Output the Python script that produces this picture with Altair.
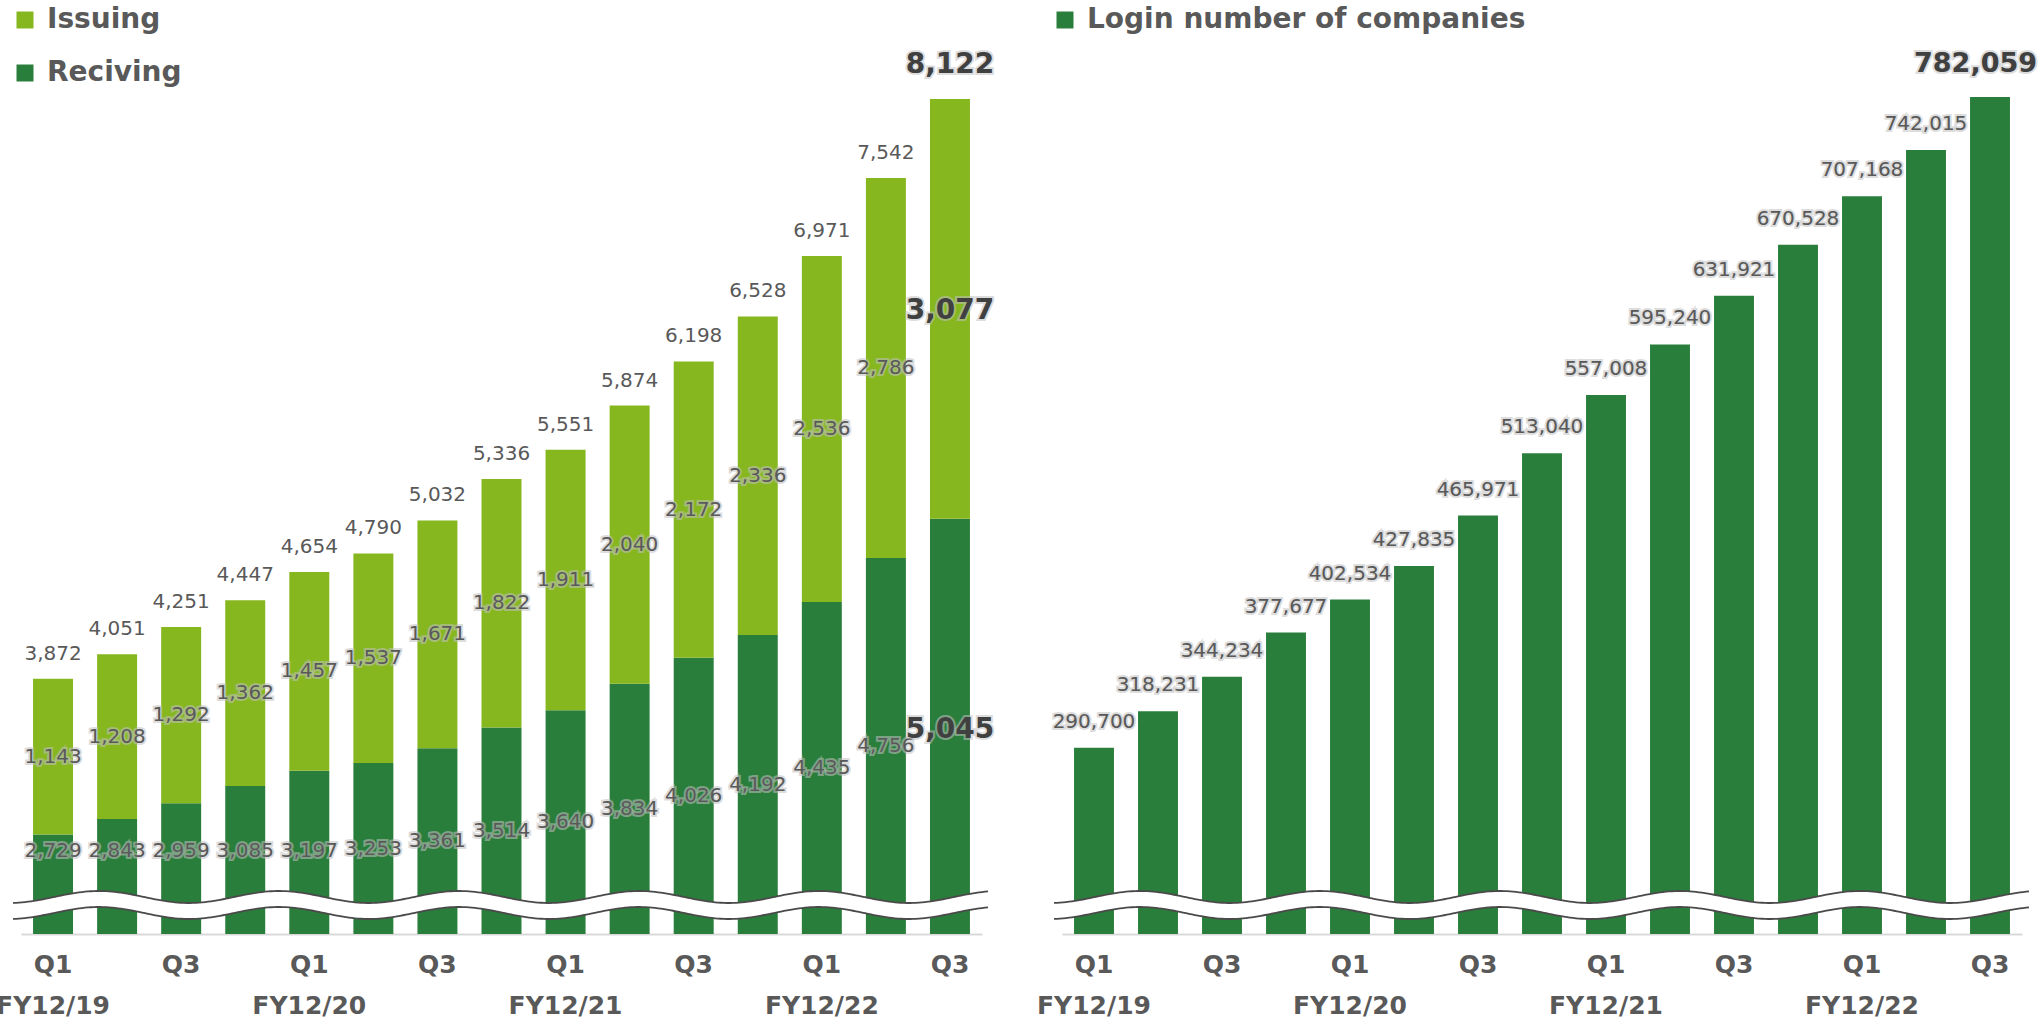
import altair as alt
import pandas as pd
import numpy as np

# ---------------- data ----------------
quarters = [
    "Q1 FY12/19", "Q2 FY12/19", "Q3 FY12/19", "Q4 FY12/19",
    "Q1 FY12/20", "Q2 FY12/20", "Q3 FY12/20", "Q4 FY12/20",
    "Q1 FY12/21", "Q2 FY12/21", "Q3 FY12/21", "Q4 FY12/21",
    "Q1 FY12/22", "Q2 FY12/22", "Q3 FY12/22",
]
receiving = [2729, 2843, 2959, 3085, 3197, 3253, 3361, 3514, 3640, 3834, 4026, 4192, 4435, 4756, 5045]
issuing = [1143, 1208, 1292, 1362, 1457, 1537, 1671, 1822, 1911, 2040, 2172, 2336, 2536, 2786, 3077]
login_companies = [290700, 318231, 344234, 377677, 402534, 427835, 465971, 513040,
                   557008, 595240, 631921, 670528, 707168, 742015, 782059]
left_series = ["Issuing", "Reciving"]
right_series = ["Login number of companies"]

# ---------------- layout / style ----------------
W, H, PAD_B = 2042, 934, 84
LEFT_X = [21, 982]
RIGHT_X = [1062, 2022]
LEFT_FLOOR = 2000        # truncated axis start (left)
RIGHT_FLOOR = 150000     # truncated axis start (right)
LABEL_MIN = 2610         # keep receiving labels above the break band
LIGHT = "#86B71E"
DARK = "#2A7E3B"
TXT = "#595959"
TXT_BOLD = "#404040"
HALO = "#c2c2c2"
FONT = "DejaVu Sans"

n = len(quarters)
left_df = pd.DataFrame({"quarter": quarters, "recv": receiving, "issu": issuing})
left_df["total"] = left_df["recv"] + left_df["issu"]
left_df["issu_mid"] = left_df["recv"] + left_df["issu"] / 2
left_df["recv_lab"] = np.maximum((LEFT_FLOOR + left_df["recv"]) / 2, LABEL_MIN)
left_df["idx"] = range(n)

right_df = pd.DataFrame({"quarter": quarters, "login": login_companies, "idx": range(n)})

label_expr = ("slice(datum.value,0,2)=='Q1' ? [slice(datum.value,0,2), slice(datum.value,3)] : "
              "(slice(datum.value,0,2)=='Q3' ? slice(datum.value,0,2) : '')")


def x_enc(rng):
    return alt.X(
        "quarter:N", sort=quarters,
        scale=alt.Scale(range=rng, paddingInner=0.376, paddingOuter=0.188),
        axis=alt.Axis(orient="bottom", title=None, labelExpr=label_expr, labelAngle=0,
                      labelFont=FONT, labelFontWeight="bold", labelFontSize=25,
                      labelColor=TXT, labelBaseline="top", labelLineHeight=41,
                      labelPadding=18, labelOverlap=False, ticks=False,
                      domainColor="#d9d9d9", domainWidth=2, grid=False),
    )


left_y = alt.Scale(domain=[LEFT_FLOOR, int(left_df["total"].max())], range=[H, 99], zero=False, nice=False)
right_y = alt.Scale(domain=[RIGHT_FLOOR, max(login_companies)], range=[H, 97], zero=False, nice=False)


def text_layers(base, xe, yfield, yscale, tfield, size, weight, color, dy, dx=0, halo=True, align="center"):
    enc = dict(x=xe, y=alt.Y(yfield, type="quantitative", scale=yscale, axis=None),
               text=alt.Text(tfield, type="quantitative", format=","))
    out = []
    if halo:
        out.append(base.mark_text(font=FONT, fontSize=size, fontWeight=weight, color=HALO,
                                  stroke=HALO, strokeWidth=4, strokeOpacity=0.6, opacity=0.9,
                                  baseline="middle", align=align, dy=dy, dx=dx).encode(**enc))
    out.append(base.mark_text(font=FONT, fontSize=size, fontWeight=weight, color=color,
                              baseline="middle", align=align, dy=dy, dx=dx).encode(**enc))
    return out


def legend_at(x, y):
    return alt.Legend(orient="none", legendX=x, legendY=y, title=None, symbolType="square",
                      symbolSize=289, symbolStrokeWidth=0, symbolOpacity=1,
                      labelFont=FONT, labelFontSize=28, labelFontWeight="bold",
                      labelColor=TXT, labelOffset=8, rowPadding=25, padding=0,
                      labelLimit=800)


# ---------------- left panel ----------------
lx = x_enc(LEFT_X)
lbase = alt.Chart(left_df)
left_color = alt.Scale(domain=left_series, range=[LIGHT, DARK])
left_legend = legend_at(11, 6)

recv_bars = lbase.transform_calculate(series="'Reciving'").mark_bar().encode(
    x=lx, y=alt.Y("recv:Q", scale=left_y, axis=None), y2=alt.datum(LEFT_FLOOR),
    color=alt.Color("series:N", scale=left_color, legend=left_legend))
issu_bars = lbase.transform_calculate(series="'Issuing'").mark_bar().encode(
    x=lx, y=alt.Y("total:Q", scale=left_y, axis=None), y2="recv:Q",
    color=alt.Color("series:N", scale=left_color, legend=left_legend))

lnorm = lbase.transform_filter(f"datum.idx < {n - 1}")
llast = lbase.transform_filter(f"datum.idx == {n - 1}")

left_layers = [recv_bars, issu_bars]
left_layers += text_layers(lnorm, lx, "issu_mid", left_y, "issu", 20, "normal", TXT, 0)
left_layers += text_layers(lnorm, lx, "recv_lab", left_y, "recv", 20, "normal", TXT, 0)
left_layers += text_layers(lnorm, lx, "total", left_y, "total", 20, "normal", TXT, -25, halo=False)
left_layers += text_layers(llast, lx, "issu_mid", left_y, "issu", 28, "bold", TXT_BOLD, 2)
left_layers += text_layers(llast, lx, "recv_lab", left_y, "recv", 28, "bold", TXT_BOLD, 4)
left_layers += text_layers(llast, lx, "total", left_y, "total", 28, "bold", TXT_BOLD, -34)
left = alt.layer(*left_layers)

# ---------------- right panel ----------------
rx = x_enc(RIGHT_X)
rbase = alt.Chart(right_df)
right_legend = legend_at(1051, 6)
login_bars = rbase.transform_calculate(series="'Login number of companies'").mark_bar().encode(
    x=rx, y=alt.Y("login:Q", scale=right_y, axis=None), y2=alt.datum(RIGHT_FLOOR),
    color=alt.Color("series:N", scale=alt.Scale(domain=right_series, range=[DARK]),
                    legend=right_legend))
rnorm = rbase.transform_filter(f"datum.idx < {n - 1}")
rlast = rbase.transform_filter(f"datum.idx == {n - 1}")
right_layers = [login_bars]
right_layers += text_layers(rnorm, rx, "login", right_y, "login", 20, "normal", TXT, -26)
right_layers += text_layers(rlast, rx, "login", right_y, "login", 27, "bold", TXT_BOLD, -33,
                            dx=47, align="right")
right = alt.layer(*right_layers)

# ---------------- axis-break decoration (pixel space) ----------------
rows = []
for name, (x0, x1) in {"L": LEFT_X, "R": RIGHT_X}.items():
    peak = x0 + 78
    for xp in np.arange(x0 - 8, x1 + 9, 3.0):
        up = 897 - 6 * np.cos(2 * np.pi * (xp - peak) / 180.0)
        rows.append({"panel": name, "px": float(xp), "up": float(up), "lo": float(up + 16)})
wave_df = pd.DataFrame(rows)
pxs = alt.Scale(domain=[0, W], range=[0, W], zero=False, nice=False)
pys = alt.Scale(domain=[0, H + PAD_B], range=[0, H + PAD_B], zero=False, nice=False)
wbase = alt.Chart(wave_df)
w_area = wbase.mark_area(color="white", opacity=1).encode(
    x=alt.X("px:Q", scale=pxs, axis=None),
    y=alt.Y("up:Q", scale=pys, axis=None), y2="lo:Q", detail="panel:N")
w_up = wbase.mark_line(color="#4a4a4a", strokeWidth=1.8).encode(
    x=alt.X("px:Q", scale=pxs, axis=None), y=alt.Y("up:Q", scale=pys, axis=None), detail="panel:N")
w_lo = wbase.mark_line(color="#4a4a4a", strokeWidth=1.8).encode(
    x=alt.X("px:Q", scale=pxs, axis=None), y=alt.Y("lo:Q", scale=pys, axis=None), detail="panel:N")
wave = alt.layer(w_area, w_up, w_lo)

chart = alt.layer(left, right, wave).resolve_scale(
    x="independent", y="independent", color="independent"
).resolve_axis(x="independent", y="independent").resolve_legend(color="independent").properties(
    width=W, height=H,
    autosize=alt.AutoSizeParams(type="none"),
    padding={"left": 0, "top": 0, "right": 0, "bottom": PAD_B},
    background="white",
).configure_view(stroke=None)

chart.save("out.html", embed_options={"renderer": "svg", "actions": False})
